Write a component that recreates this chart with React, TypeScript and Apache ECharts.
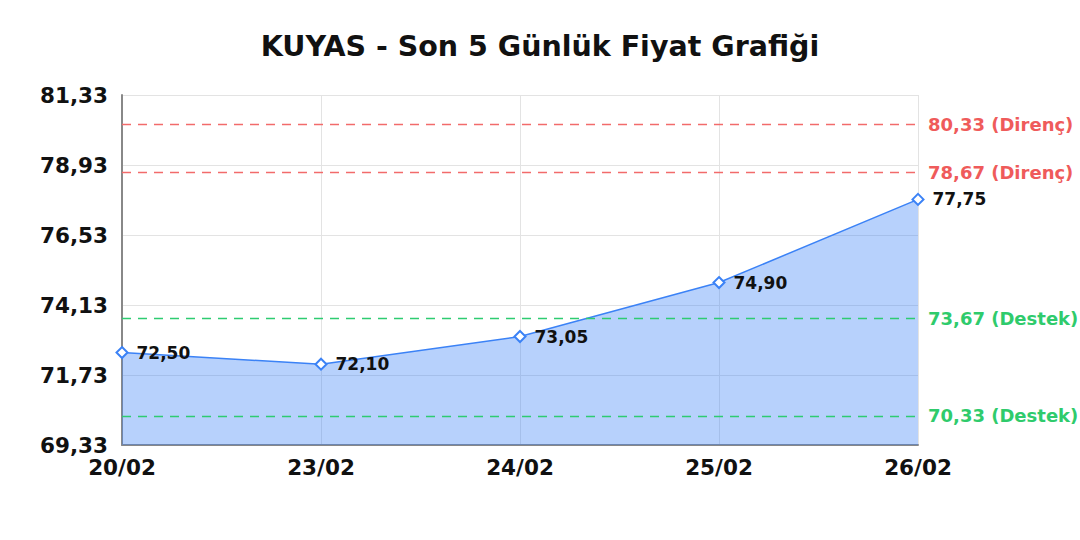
import React, { useEffect, useRef } from 'react';
import * as echarts from 'echarts';

// chart data
const days = ['20/02', '23/02', '24/02', '25/02', '26/02'];
const prices = [72.5, 72.1, 73.05, 74.9, 77.75];
const yTicks = [69.33, 71.73, 74.13, 76.53, 78.93, 81.33];
const resistance = [80.33, 78.67];
const support = [73.67, 70.33];

const fmt = (v: number) => v.toFixed(2).replace('.', ',');
const FONT = 'DejaVu Sans';

const App: React.FC = () => {
  const chartRef = useRef<HTMLDivElement | null>(null);

  useEffect(() => {
    if (!chartRef.current) return;
    const chart = echarts.init(chartRef.current, undefined, { renderer: 'svg' });

    const levelLines = [
      ...resistance.map((v) => ({
        yAxis: v,
        lineStyle: { color: '#f26b6b', type: [9, 7] as any, width: 1.3 },
        label: { formatter: `${fmt(v)} (Direnç)`, color: '#ef5b5b' },
      })),
      ...support.map((v) => ({
        yAxis: v,
        lineStyle: { color: '#2ecc71', type: [9, 7] as any, width: 1.3 },
        label: { formatter: `${fmt(v)} (Destek)`, color: '#2fcb6c' },
      })),
    ];

    chart.setOption({
      animation: false,
      textStyle: { fontFamily: FONT },
      title: {
        text: 'KUYAS - Son 5 Günlük Fiyat Grafiği',
        left: 'center',
        top: 27,
        textStyle: { fontFamily: FONT, fontSize: 28.5, fontWeight: 'bold', color: '#111' },
      },
      grid: { left: 122, right: 162, top: 95, bottom: 95 },
      xAxis: {
        type: 'category',
        data: days,
        boundaryGap: false,
        axisLine: { lineStyle: { color: '#888', width: 2 } },
        axisTick: { show: false },
        splitLine: { show: true, lineStyle: { color: '#e3e3e3' } },
        axisLabel: { fontSize: 21.5, fontWeight: 'bold', color: '#111', margin: 11 },
      },
      yAxis: {
        type: 'value',
        min: yTicks[0],
        max: yTicks[yTicks.length - 1],
        axisLine: { show: true, lineStyle: { color: '#888', width: 2 } },
        axisTick: { show: false, customValues: yTicks },
        axisLabel: {
          customValues: yTicks,
          formatter: (v: number) => fmt(v),
          fontSize: 21.5,
          fontWeight: 'bold',
          color: '#111',
          margin: 14,
        },
        splitLine: { show: true, lineStyle: { color: '#e3e3e3' } },
      },
      series: [
        {
          type: 'line',
          data: prices,
          symbol: 'emptyDiamond',
          symbolSize: 11,
          itemStyle: { color: '#3b82f6', borderWidth: 2 },
          lineStyle: { color: '#3b82f6', width: 1.5 },
          areaStyle: { color: 'rgba(59,130,246,0.37)', opacity: 1 },
          label: {
            show: true,
            position: 'right',
            distance: 8,
            formatter: (p: any) => fmt(p.value),
            fontSize: 17,
            fontWeight: 'bold',
            color: '#111',
          },
          markLine: {
            silent: true,
            symbol: 'none',
            label: { position: 'end', fontSize: 18, fontWeight: 'bold', distance: 10 },
            data: levelLines,
          },
        },
      ],
    });

    return () => {
      chart.dispose();
    };
  }, []);

  return (
    <div
      ref={chartRef}
      style={{ position: 'fixed', left: 0, top: 0, width: 1080, height: 540, background: '#fff' }}
    ></div>
  );
};

export default App;
